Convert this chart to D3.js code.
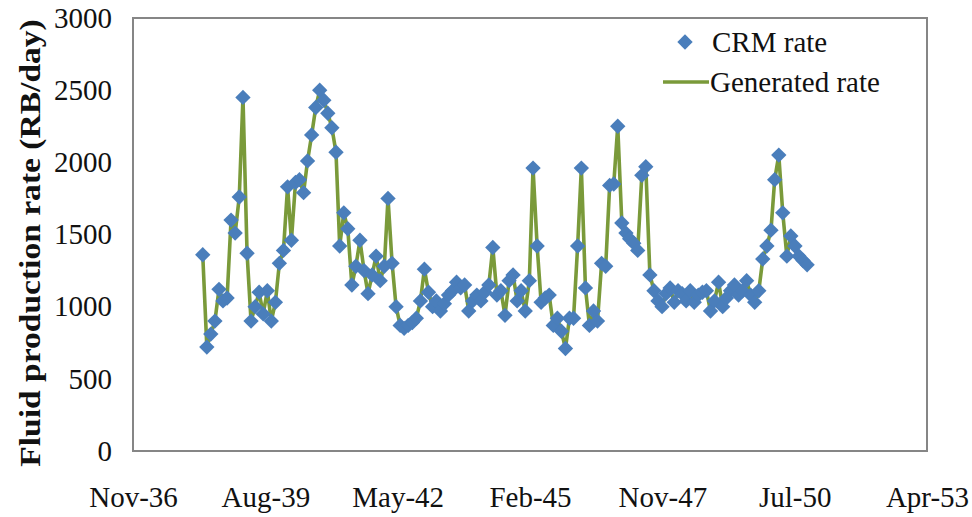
<!DOCTYPE html>
<html>
<head>
<meta charset="utf-8">
<script src="https://cdn.jsdelivr.net/npm/d3@7/dist/d3.min.js"></script>
<style>
  html, body { margin: 0; padding: 0; background: #fff; }
  svg { display: block; }
  text { font-family: "Liberation Serif", "Times New Roman", serif; fill: #111; }
</style>
</head>
<body>
<svg id="chart" width="972" height="517"></svg>
<script>
// Monthly fluid production rate, first month May 1938
const firstMonth = new Date(1938, 4, 1);
const crmRate = [
  1360, 720, 810, 900, 1120, 1040, 1060, 1600, 1510, 1760,
  2450, 1370, 900, 1000, 1100, 950, 1110, 900, 1030, 1300,
  1390, 1830, 1460, 1860, 1880, 1790, 2010, 2190, 2380, 2500,
  2430, 2340, 2240, 2070, 1420, 1650, 1540, 1150, 1280, 1460,
  1250, 1090, 1220, 1350, 1180, 1280, 1750, 1300, 1000, 870,
  850, 870, 890, 920, 1040, 1260, 1100, 1000, 1040, 970,
  1020, 1080, 1110, 1170, 1130, 1150, 970, 1040, 1080, 1040,
  1100, 1150, 1410, 1080, 1110, 940, 1180, 1220, 1040, 1110,
  970, 1180, 1960, 1420, 1030, 1060, 1080, 870, 920, 830,
  710, 920, 920, 1420, 1960, 1130, 870, 970, 900, 1300,
  1280, 1840, 1850, 2250, 1580, 1510, 1470, 1440, 1390, 1910,
  1970, 1220, 1110, 1040, 1000, 1090, 1130, 1030, 1110, 1090,
  1040, 1110, 1030, 1080, 1100, 1110, 970, 1040, 1170,
  1000, 1060, 1110, 1150, 1080, 1110, 1180, 1080, 1030, 1110,
  1330, 1420, 1530, 1880, 2050, 1650, 1350, 1490, 1420, 1350,
  1320, 1290
];
// The generated series follows the CRM series month by month
const generatedRate = crmRate;

// Axis ticks
const xTickLabels = ["Nov-36", "Aug-39", "May-42", "Feb-45", "Nov-47", "Jul-50", "Apr-53"];
const xAxisStart = new Date(1936, 10, 20);
const xTickStepDays = 1000;
const yTicks = [0, 500, 1000, 1500, 2000, 2500, 3000];

const seriesNames = ["CRM rate", "Generated rate"];

const blue = "#4a7ebb";
const green = "#7a9a3a";

const svg = d3.select("#chart");
const plot = { left: 133, right: 927, top: 18, bottom: 451 };

const xTickDates = xTickLabels.map((_, i) => d3.timeDay.offset(xAxisStart, i * xTickStepDays));
const x = d3.scaleTime()
  .domain([xTickDates[0], xTickDates[xTickDates.length - 1]])
  .range([plot.left, plot.right]);
const y = d3.scaleLinear().domain([0, 3000]).range([plot.bottom, plot.top]);

const rows = crmRate.map((v, i) => ({
  date: d3.timeMonth.offset(firstMonth, i),
  crm: v,
  gen: generatedRate[i]
}));

// Plot area frame
svg.append("rect")
  .attr("x", plot.left).attr("y", plot.top)
  .attr("width", plot.right - plot.left).attr("height", plot.bottom - plot.top)
  .attr("fill", "none").attr("stroke", "#868686").attr("stroke-width", 2);

// Y axis
const yAxis = svg.append("g")
  .attr("transform", `translate(${plot.left},0)`)
  .call(d3.axisLeft(y).tickValues(yTicks).tickSize(0).tickPadding(21).tickFormat(d3.format("d")));
yAxis.select(".domain").remove();
yAxis.selectAll("text").style("font-size", "29px").style("font-family", "'Liberation Serif', serif").attr("fill", "#111");

// X axis
const xAxis = svg.append("g")
  .attr("transform", `translate(0,${plot.bottom})`)
  .call(d3.axisBottom(x).tickValues(xTickDates).tickSize(0).tickPadding(35)
    .tickFormat((d, i) => xTickLabels[i]));
xAxis.select(".domain").remove();
xAxis.selectAll("text").style("font-size", "29px").style("font-family", "'Liberation Serif', serif").attr("fill", "#111");

// Y axis title, slightly stretched along its length
svg.append("text")
  .attr("transform", "translate(40,243) rotate(-90) scale(1.1,1)")
  .attr("text-anchor", "middle")
  .style("font-size", "30.5px")
  .style("font-weight", "bold")
  .text("Fluid production rate (RB/day)");

// Generated rate line
svg.append("path")
  .datum(rows)
  .attr("fill", "none")
  .attr("stroke", green)
  .attr("stroke-width", 3.6)
  .attr("stroke-linejoin", "round")
  .attr("d", d3.line().x(d => x(d.date)).y(d => y(d.gen)));

// CRM rate markers
const diamond = d3.symbol().type(d3.symbolSquare).size(118);
svg.append("g").selectAll("path")
  .data(rows)
  .join("path")
  .attr("d", diamond)
  .attr("fill", blue)
  .attr("transform", d => `translate(${x(d.date)},${y(d.crm)}) rotate(45)`);

// Legend
const legend = svg.append("g");
legend.append("path")
  .attr("d", diamond)
  .attr("fill", blue)
  .attr("transform", "translate(685,42) rotate(45)");
legend.append("text")
  .attr("x", 712).attr("y", 52)
  .style("font-size", "29px")
  .text(seriesNames[0]);
legend.append("line")
  .attr("x1", 663).attr("x2", 709).attr("y1", 82).attr("y2", 82)
  .attr("stroke", green).attr("stroke-width", 3.6);
legend.append("text")
  .attr("x", 710).attr("y", 92)
  .style("font-size", "29px")
  .text(seriesNames[1]);
</script>
</body>
</html>
